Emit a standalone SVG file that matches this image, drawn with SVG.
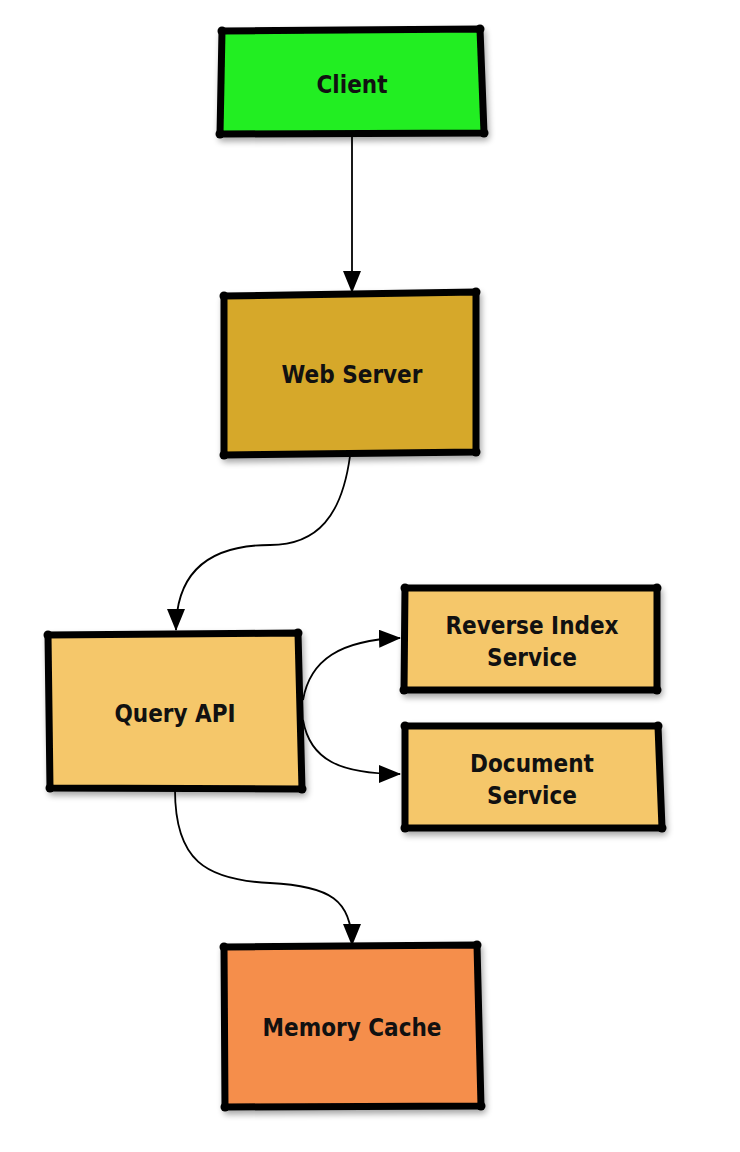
<svg xmlns="http://www.w3.org/2000/svg" width="740" height="1152" viewBox="0 0 740 1152">
<style>
.box{stroke:#000;stroke-width:7;stroke-linejoin:round;filter:url(#sh)}
.dot{fill:#000}
.lbl{font-family:"DejaVu Sans Condensed","DejaVu Sans",sans-serif;font-weight:bold;font-size:24px;fill:#111;text-anchor:middle}
.edge{fill:none;stroke:#000;stroke-width:1.8;marker-end:url(#arr)}
</style>
<defs>
<marker id="arr" markerWidth="22" markerHeight="18" refX="21" refY="9" orient="auto" markerUnits="userSpaceOnUse">
<path d="M0,0 L22,9 L0,18 Z" fill="#000"/>
</marker>
<filter id="sh" x="-10%" y="-10%" width="125%" height="130%">
<feGaussianBlur in="SourceAlpha" stdDeviation="3"/>
<feOffset dx="2" dy="4" result="b"/>
<feComponentTransfer><feFuncA type="linear" slope="0.35"/></feComponentTransfer>
<feMerge><feMergeNode/><feMergeNode in="SourceGraphic"/></feMerge>
</filter>
</defs>
<rect width="740" height="1152" fill="#fff"/>
<g id="connectors">
<path class="edge" d="M352,134 L352,292"/>
<path class="edge" d="M350,456 C342,515 318,545 270,545 C205,545 176,575 176,630"/>
<path class="edge" d="M303,700 C310,660 340,640 400,638"/>
<path class="edge" d="M303,720 C310,760 340,774 400,774"/>
<path class="edge" d="M175,790 C175,860 205,880 270,883 C330,886 352,900 352,945"/>
</g>
<g id="client">
<polygon class="box" fill="#22EE22" points="222,31 480,29 484,133 220,134"/>
<circle class="dot" cx="222" cy="31" r="4.5"/><circle class="dot" cx="480" cy="29" r="4.5"/><circle class="dot" cx="484" cy="133" r="4.5"/><circle class="dot" cx="220" cy="134" r="4.5"/>
<text class="lbl" x="352" y="93">Client</text>
</g>
<g id="webserver">
<polygon class="box" fill="#D6A82B" points="224,296 476,292 476,452 224,455"/>
<circle class="dot" cx="224" cy="296" r="4.5"/><circle class="dot" cx="476" cy="292" r="4.5"/><circle class="dot" cx="476" cy="452" r="4.5"/><circle class="dot" cx="224" cy="455" r="4.5"/>
<text class="lbl" x="352" y="383">Web Server</text>
</g>
<g id="queryapi">
<polygon class="box" fill="#F5C76A" points="48,635 298,633 302,789 50,788"/>
<circle class="dot" cx="48" cy="635" r="4.5"/><circle class="dot" cx="298" cy="633" r="4.5"/><circle class="dot" cx="302" cy="789" r="4.5"/><circle class="dot" cx="50" cy="788" r="4.5"/>
<text class="lbl" x="175" y="722">Query API</text>
</g>
<g id="reverseindex">
<polygon class="box" fill="#F5C76A" points="405,588 657,588 657,690 404,690"/>
<circle class="dot" cx="405" cy="588" r="4.5"/><circle class="dot" cx="657" cy="588" r="4.5"/><circle class="dot" cx="657" cy="690" r="4.5"/><circle class="dot" cx="404" cy="690" r="4.5"/>
<text class="lbl" x="532" y="634">Reverse Index</text>
<text class="lbl" x="532" y="666">Service</text>
</g>
<g id="document">
<polygon class="box" fill="#F5C76A" points="405,726 658,726 662,828 405,828"/>
<circle class="dot" cx="405" cy="726" r="4.5"/><circle class="dot" cx="658" cy="726" r="4.5"/><circle class="dot" cx="662" cy="828" r="4.5"/><circle class="dot" cx="405" cy="828" r="4.5"/>
<text class="lbl" x="532" y="772">Document</text>
<text class="lbl" x="532" y="804">Service</text>
</g>
<g id="memorycache">
<polygon class="box" fill="#F58E4C" points="224,947 477,945 481,1106 225,1107"/>
<circle class="dot" cx="224" cy="947" r="4.5"/><circle class="dot" cx="477" cy="945" r="4.5"/><circle class="dot" cx="481" cy="1106" r="4.5"/><circle class="dot" cx="225" cy="1107" r="4.5"/>
<text class="lbl" x="352" y="1036">Memory Cache</text>
</g>
</svg>
